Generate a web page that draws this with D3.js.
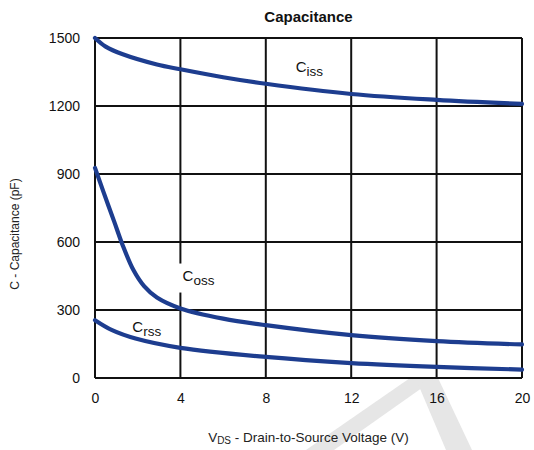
<!DOCTYPE html>
<html>
<head>
<meta charset="utf-8">
<script src="https://cdn.jsdelivr.net/npm/d3@7"></script>
<style>
  body { margin: 0; background: #fff; }
  svg { display: block; font-family: "Liberation Sans", Arial, sans-serif; }
</style>
</head>
<body>
<svg id="chart" width="534" height="450"></svg>
<script>
'use strict';

// values (VDS in volts, capacitance in pF)
var cissV = [0, 0.5, 1.3, 2.9, 4, 6, 8, 12, 16, 20];
var cissC = [1500, 1462, 1428, 1383, 1362, 1327, 1298, 1253, 1227, 1209];

var cossV = [0, 0.4, 0.9, 1.3, 1.8, 2.3, 2.9, 4, 6, 8, 12, 16, 20];
var cossC = [927, 820, 690, 585, 476, 405, 355, 307, 262, 233, 189, 163, 148];

var crssV = [0, 0.8, 1.9, 4, 8, 12, 16, 20];
var crssC = [255, 211, 174, 133, 93, 66, 49, 37];

var xTicks = [0, 4, 8, 12, 16, 20];
var yTicks = [0, 300, 600, 900, 1200, 1500];

var margin = {left: 95, right: 12, top: 38, bottom: 72};
var width = 534, height = 450;

var svg = d3.select("#chart");

var x = d3.scaleLinear().domain([0, 20]).range([margin.left, width - margin.right]);
var y = d3.scaleLinear().domain([0, 1500]).range([height - margin.bottom, margin.top]);

// faint watermark in the lower right
svg.append("g")
   .attr("fill", "#e6e6e6")
   .selectAll("polygon")
   .data([
       [[410, 378], [436, 378], [334, 450], [306, 450]],
       [[418, 384], [438, 378], [472, 450], [446, 450]]
   ])
   .enter().append("polygon")
   .attr("points", d => d.join(" "));

// grid
var grid = svg.append("g").attr("stroke", "#111").attr("stroke-width", 2);
grid.selectAll("line.v")
    .data(xTicks)
    .enter().append("line")
    .attr("x1", d => x(d)).attr("x2", d => x(d))
    .attr("y1", y(0)).attr("y2", y(1500));
grid.selectAll("line.h")
    .data(yTicks)
    .enter().append("line")
    .attr("y1", d => y(d)).attr("y2", d => y(d))
    .attr("x1", x(0)).attr("x2", x(20));

// axes (labels only, the grid carries the lines)
var xAxis = svg.append("g")
    .attr("transform", "translate(0," + (y(0) + 12) + ")")
    .call(d3.axisBottom(x).tickValues(xTicks).tickSize(0).tickFormat(d3.format("d")));
var yAxis = svg.append("g")
    .attr("transform", "translate(" + (x(0) - 12) + ",0)")
    .call(d3.axisLeft(y).tickValues(yTicks).tickSize(0).tickFormat(d3.format("d")));
[xAxis, yAxis].forEach(a => {
    a.select(".domain").remove();
    a.selectAll("text")
     .attr("font-family", "Liberation Sans, Arial, sans-serif")
     .attr("font-size", 14)
     .attr("fill", "#111");
});
yAxis.selectAll("text").attr("dy", "0.35em");

// white patch behind Coss label (cuts the 4 V gridline)
svg.append("rect")
   .attr("x", x(4) - 4).attr("y", y(505))
   .attr("width", 8).attr("height", 29)
   .attr("fill", "#fff");

// curves
var line = d3.line()
    .x(d => x(d[0]))
    .y(d => y(d[1]))
    .curve(d3.curveCatmullRom.alpha(0.5));

var series = [
    d3.zip(cissV, cissC),
    d3.zip(cossV, cossC),
    d3.zip(crssV, crssC)
];

svg.append("g")
   .selectAll("path")
   .data(series)
   .enter().append("path")
   .attr("d", line)
   .attr("fill", "none")
   .attr("stroke", "#1d3d8f")
   .attr("stroke-width", 4.2)
   .attr("stroke-linecap", "round");

// curve labels
function curveLabel(sub, vx, vy) {
    var t = svg.append("text")
               .attr("x", x(vx)).attr("y", y(vy))
               .attr("font-size", 15)
               .attr("fill", "#111");
    t.append("tspan").text("C");
    t.append("tspan").attr("dy", 4).attr("font-size", 13.5).text(sub);
}
curveLabel("iss", 9.4, 1350);
curveLabel("oss", 4.1, 430);
curveLabel("rss", 1.75, 204);

// title
svg.append("text")
   .attr("x", (x(0) + x(20)) / 2).attr("y", 22)
   .attr("text-anchor", "middle")
   .attr("font-size", 15)
   .attr("font-weight", "bold")
   .attr("fill", "#111")
   .text("Capacitance");

// x axis title
var xt = svg.append("text")
   .attr("x", (x(0) + x(20)) / 2).attr("y", 442)
   .attr("text-anchor", "middle")
   .attr("font-size", 13.5)
   .attr("fill", "#222");
xt.append("tspan").text("V");
xt.append("tspan").attr("dy", 2).attr("font-size", 10).text("DS");
xt.append("tspan").attr("dy", -2).text(" - Drain-to-Source Voltage (V)");

// y axis title
svg.append("text")
   .attr("transform", "translate(19,234) rotate(-90)")
   .attr("text-anchor", "middle")
   .attr("font-size", 12)
   .attr("fill", "#222")
   .text("C - Capacitance (pF)");
</script>
</body>
</html>
